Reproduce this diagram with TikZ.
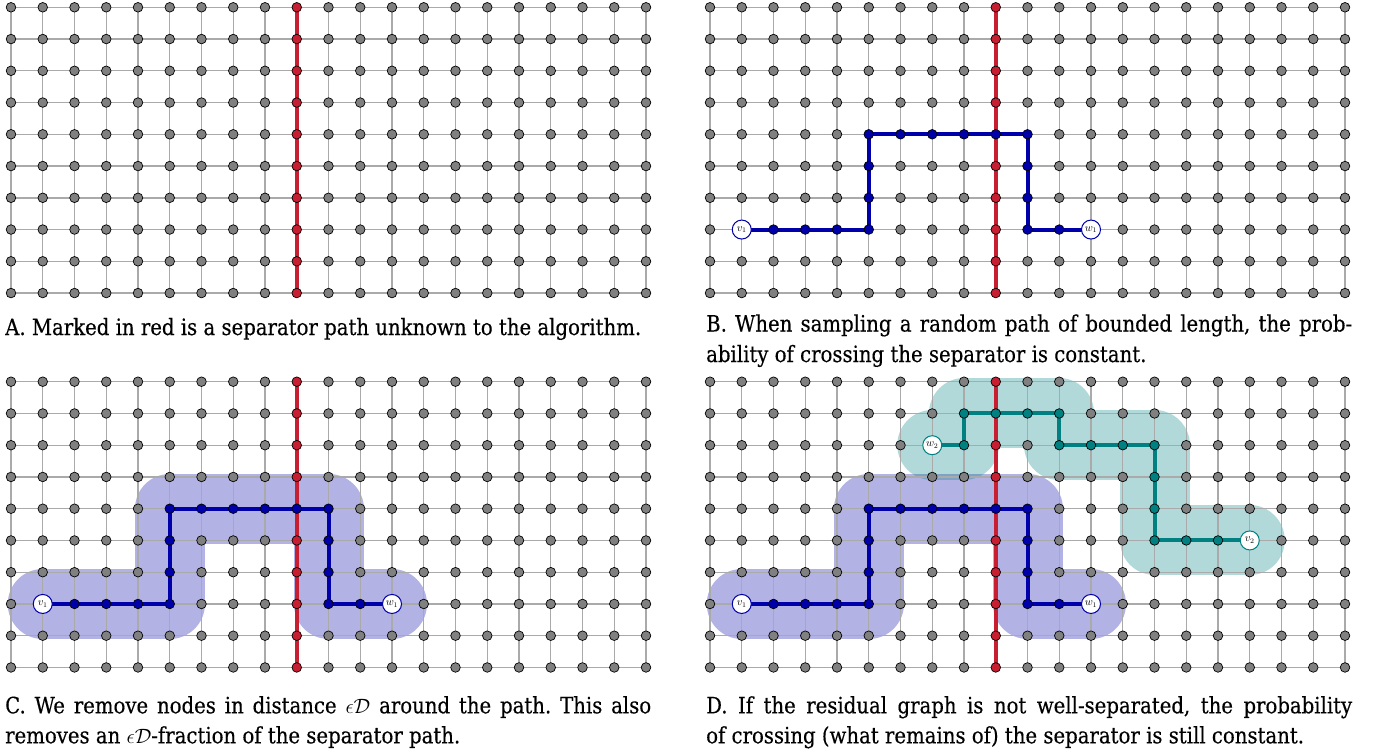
\documentclass[tikz,border=0pt]{standalone}
\usepackage{fontspec}
\setmainfont{DejaVu Serif}[FakeStretch=0.875,FakeBold=0.35]
\frenchspacing
\pgfdeclarelayer{blob}\pgfdeclarelayer{lines}\pgfsetlayers{blob,lines,main}
\definecolor{sepred}{RGB}{200,30,50}
\definecolor{pblue}{RGB}{0,0,170}
\definecolor{pteal}{RGB}{0,128,128}
\definecolor{gline}{RGB}{170,170,170}
\definecolor{gfill}{RGB}{128,128,128}
\tikzset{
 gnode/.style={circle,draw=black,line width=0.7pt,fill=gfill,minimum size=9.6pt,inner sep=0pt},
 rnode/.style={gnode,fill=sepred},
 bnode/.style={gnode,fill=pblue},
 tnode/.style={gnode,fill=pteal},
 endblue/.style={circle,draw=pblue,line width=1pt,fill=white,minimum size=19pt,inner sep=0pt,font=\fontsize{10.5}{12}\selectfont},
 endteal/.style={endblue,draw=pteal},
 gridline/.style={draw=gline,line width=1.4pt},
 sepline/.style={draw=sepred,line width=4pt},
 bpath/.style={draw=pblue,line width=4pt},
 tpath/.style={draw=pteal,line width=4pt},
 bblob/.style={draw=pblue,draw opacity=0.3,line width=70pt,line cap=round,line join=round},
 tblob/.style={bblob,draw=pteal},
 caption/.style={anchor=base west,inner sep=0pt,font=\fontsize{22.5}{27}\selectfont},
}
\newcommand\setcell[5]{%
 \expandafter\gdef\csname st-#1-#2-#3\endcsname{#4}%
 \expandafter\gdef\csname tx-#1-#2-#3\endcsname{#5}}
\newcommand\sepcells[1]{\foreach \j in {0,...,9}{\setcell{#1}{9}{\j}{rnode}{}}}
\newcommand\bluecells[1]{%
 \foreach \a/\b in {2/7,3/7,4/7,5/7,5/6,5/5,5/4,6/4,7/4,8/4,9/4,10/4,10/5,10/6,10/7,11/7}{\setcell{#1}{\a}{\b}{bnode}{}}%
 \setcell{#1}{1}{7}{endblue}{$v_1$}\setcell{#1}{12}{7}{endblue}{$w_1$}}
\newcommand\tealcells[1]{%
 \foreach \a/\b in {8/2,8/1,9/1,10/1,11/1,11/2,12/2,13/2,14/2,14/3,14/4,14/5,15/5,16/5}{\setcell{#1}{\a}{\b}{tnode}{}}%
 \setcell{#1}{7}{2}{endteal}{$w_2$}\setcell{#1}{17}{5}{endteal}{$v_2$}}
\newcommand\drawpanel[3]{%
 \foreach \i in {0,...,20}{\foreach \j in {0,...,9}{%
   \ifcsname st-#1-\i-\j\endcsname\edef\st{\csname st-#1-\i-\j\endcsname}\else\def\st{gnode}\fi
   \node[\st] (#1-\i-\j) at ({#2+\i*31.75},{#3+\j*31.75}) {\csname tx-#1-\i-\j\endcsname};
 }}%
 \begin{pgfonlayer}{lines}
 \foreach \j in {0,...,9}{\draw[gridline] (#1-0-\j.center) -- (#1-20-\j.center);}
 \foreach \i in {0,...,20}{\draw[gridline] (#1-\i-0.center) -- (#1-\i-9.center);}
 \draw[sepline] (#1-9-0.center) -- (#1-9-9.center);
 \end{pgfonlayer}}
\newcommand\bluepath[2]{\draw[#2] (#1-1-7.center) -- (#1-5-7.center) -- (#1-5-4.center) -- (#1-10-4.center) -- (#1-10-7.center) -- (#1-12-7.center);}
\newcommand\tealpath[2]{\draw[#2] (#1-7-2.center) -- (#1-8-2.center) -- (#1-8-1.center) -- (#1-11-1.center) -- (#1-11-2.center) -- (#1-14-2.center) -- (#1-14-5.center) -- (#1-17-5.center);}
\begin{document}
\begin{tikzpicture}[x=1pt,y=-1pt]
\useasboundingbox (0,0) rectangle (1383,749);
% cell styles
\sepcells{A}\sepcells{B}\sepcells{C}\sepcells{D}
\bluecells{B}\bluecells{C}\bluecells{D}\tealcells{D}
% panels
\drawpanel{A}{11}{7.3}
\drawpanel{B}{710}{7.3}
\drawpanel{C}{11}{381.7}
\drawpanel{D}{710}{381.7}
% blobs
\begin{pgfonlayer}{blob}
\bluepath{C}{bblob}
\bluepath{D}{bblob}
\tealpath{D}{tblob}
\end{pgfonlayer}
% paths
\begin{pgfonlayer}{lines}
\bluepath{B}{bpath}
\bluepath{C}{bpath}
\bluepath{D}{bpath}
\tealpath{D}{tpath}
\end{pgfonlayer}
% captions
\node[caption] (capA) at (5,335) {A. Marked in red is a separator path unknown to the algorithm.};
\node[caption] (capB1) at (706,331.5) {\makebox[646pt][s]{B. When sampling a random path of bounded length, the prob-}};
\node[caption] (capB2) at (706,362) {ability of crossing the separator is constant.};
\node[caption] (capC1) at (5,713.3) {\makebox[646pt][s]{C. We remove nodes in distance $\epsilon\mathcal{D}$ around the path. This also}};
\node[caption] (capC2) at (5,743.3) {removes an $\epsilon\mathcal{D}$-fraction of the separator path.};
\node[caption] (capD1) at (706,713.3) {\makebox[646pt][s]{D. If the residual graph is not well-separated, the probability}};
\node[caption] (capD2) at (706,743.3) {of crossing (what remains of) the separator is still constant.};
\end{tikzpicture}
\end{document}
